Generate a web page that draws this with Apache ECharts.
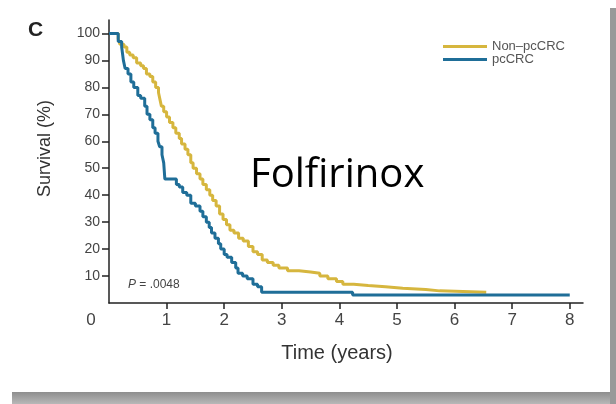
<!DOCTYPE html>
<html>
<head>
<meta charset="utf-8">
<script src="https://cdn.jsdelivr.net/npm/echarts@6/dist/echarts.min.js"></script>
<style>html,body{margin:0;padding:0;background:#fff;}#c{width:616px;height:404px;}</style>
</head>
<body>
<div id="c"></div>
<script>
// Kaplan-Meier estimates
var pcTimes = [0, 0.16, 0.22, 0.25, 0.28, 0.33, 0.38, 0.43, 0.5, 0.55, 0.62, 0.66, 0.71, 0.76, 0.8, 0.85, 0.88, 0.92, 0.95, 0.97, 1.17, 1.22, 1.28, 1.35, 1.42, 1.5, 1.58, 1.63, 1.69, 1.74, 1.78, 1.84, 1.9, 1.94, 2.0, 2.05, 2.13, 2.2, 2.24, 2.32, 2.4, 2.5, 2.58, 2.65, 4.23, 8.0];
var pcSurv  = [100, 97, 95, 90, 87, 85, 82, 80, 77, 76, 73, 70, 68, 65, 63, 60, 58, 55, 52, 46, 44, 43, 41, 40, 37, 36, 34, 32, 30, 28, 26, 24, 22, 20, 18, 17, 15, 13, 11, 10, 9, 7, 6, 4, 3, 3];
var nonTimes = [0, 0.16, 0.19, 0.26, 0.31, 0.36, 0.42, 0.48, 0.55, 0.6, 0.65, 0.71, 0.76, 0.81, 0.86, 0.89, 0.91, 0.95, 1.0, 1.05, 1.11, 1.16, 1.22, 1.26, 1.32, 1.37, 1.42, 1.46, 1.52, 1.58, 1.63, 1.69, 1.75, 1.8, 1.86, 1.92, 1.98, 2.04, 2.1, 2.17, 2.25, 2.33, 2.42, 2.5, 2.58, 2.66, 2.75, 2.85, 2.95, 3.1, 3.3, 3.5, 3.66, 3.8, 3.95, 4.06, 4.25, 4.5, 4.8, 5.1, 5.5, 5.74, 6.55];
var nonSurv  = [100, 98, 96, 95, 93, 92, 91, 89, 88, 87, 85, 84, 82, 80, 78, 75, 73, 71, 69, 67, 65, 63, 61, 59, 57, 55, 52, 50, 48, 46, 44, 42, 40, 38, 36, 33, 31, 29, 27, 26, 24, 23, 21, 19, 18, 16, 15, 14, 13, 12, 11.5, 11, 10, 9, 8, 7, 6.5, 6, 5.5, 5, 4.5, 4, 4];
var seriesNames = ['Non\u2013pcCRC', 'pcCRC'];
var xTickLabels = [0, 1, 2, 3, 4, 5, 6, 7, 8];
var yTickLabels = [10, 20, 30, 40, 50, 60, 70, 80, 90, 100];

function pairs(t, s) { return t.map(function (v, i) { return [v, s[i]]; }); }

var chart = echarts.init(document.getElementById('c'), null, { renderer: 'canvas' });
chart.setOption({
  animation: false,
  backgroundColor: '#ffffff',
  title: {
    text: 'C', left: 23, top: 15,
    textStyle: { fontFamily: 'Liberation Sans', fontWeight: 'bold', fontSize: 21, color: '#222' }
  },
  legend: {
    orient: 'vertical', left: 438, top: 35, itemWidth: 44, itemHeight: 3, itemGap: 0,
    icon: 'rect',
    textStyle: { fontFamily: 'Liberation Sans', fontSize: 13, lineHeight: 13, color: '#555' },
    data: seriesNames
  },
  grid: { left: 109, right: 33, top: 20, bottom: 101, containLabel: false },
  xAxis: {
    type: 'value', min: 0, max: 8.23,
    name: 'Time (years)', nameLocation: 'middle', nameGap: 40,
    nameTextStyle: { fontFamily: 'Liberation Sans', fontSize: 20, color: '#333', padding: [0, 18, 0, 0] },
    axisLine: { lineStyle: { color: '#222', width: 1.5 } },
    axisTick: { show: true, length: 6, inside: false, customValues: [1, 2, 3, 4, 5, 6, 7, 8], lineStyle: { color: '#222', width: 1.5 } },
    axisLabel: {
      customValues: xTickLabels, margin: 9,
      fontFamily: 'Liberation Sans', fontSize: 17, color: '#444',
      formatter: function (v) { return v === 0 ? '{z|0}' : String(v); },
      rich: { z: { padding: [0, 36, 0, 0], fontFamily: 'Liberation Sans', fontSize: 17, color: '#444' } }
    },
    splitLine: { show: false }
  },
  yAxis: {
    type: 'value', min: 0, max: 105,
    name: 'Survival (%)', nameLocation: 'middle', nameGap: 55, nameRotate: 90,
    nameTextStyle: { fontFamily: 'Liberation Sans', fontSize: 18, color: '#333', padding: [0, 0, 0, 26] },
    axisLine: { show: true, lineStyle: { color: '#222', width: 1.5 } },
    axisTick: { show: true, length: 7, inside: false, customValues: yTickLabels, lineStyle: { color: '#222', width: 1.5 } },
    axisLabel: { customValues: yTickLabels, margin: 9, fontFamily: 'Liberation Sans', fontSize: 14, color: '#444' },
    splitLine: { show: false }
  },
  series: [
    {
      name: seriesNames[0], type: 'line', step: 'end', showSymbol: false, symbol: 'none',
      data: pairs(nonTimes, nonSurv),
      itemStyle: { color: '#d6b63e' },
      lineStyle: { color: '#d6b63e', width: 3 }
    },
    {
      name: seriesNames[1], type: 'line', step: 'end', showSymbol: false, symbol: 'none',
      data: pairs(pcTimes, pcSurv),
      itemStyle: { color: '#1f6e98' },
      lineStyle: { color: '#1f6e98', width: 3 }
    }
  ],
  graphic: [
    { type: 'rect', shape: { x: 12, y: 392, width: 604, height: 12 }, style: { fill: new echarts.graphic.LinearGradient(0, 0, 0, 1, [{ offset: 0, color: '#8e8e8e' }, { offset: 1, color: '#b8b8b8' }]) }, silent: true },
    { type: 'rect', shape: { x: 610, y: 8, width: 6, height: 396 }, style: { fill: '#999999' }, silent: true },
    { type: 'text', x: 250, y: 176, style: { text: 'Folfirinox', font: '40px "Open Sans"', fill: '#000', verticalAlign: 'middle', align: 'left' }, silent: true },
    { type: 'text', x: 128, y: 285, style: { text: '{i|P} = .0048', font: '12px "Liberation Sans"', fill: '#444', verticalAlign: 'middle', align: 'left', rich: { i: { fontStyle: 'italic', fontFamily: 'Liberation Sans', fontSize: 12, fill: '#444' } } }, silent: true }
  ]
});
</script>
</body>
</html>
